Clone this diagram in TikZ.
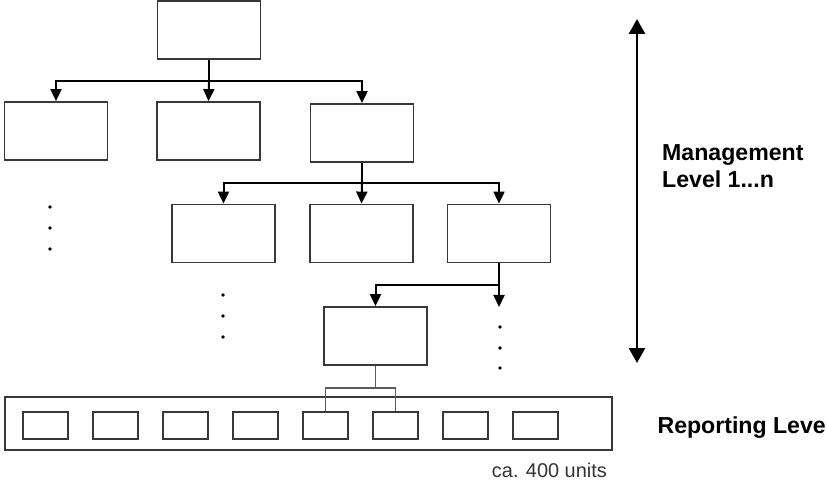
\documentclass[tikz,border=0pt]{standalone}
\usepackage{fontspec}
\setmainfont{Liberation Sans}
\usetikzlibrary{arrows.meta}
\begin{document}
\begin{tikzpicture}[x=1bp,y=-1bp,
  mbox/.style={draw=black!78, line width=1.8bp, inner sep=0pt, minimum width=103bp, minimum height=58bp},
  sbox/.style={draw=black!78, line width=2bp, inner sep=0pt, minimum width=45bp, minimum height=27bp},
  barbox/.style={draw=black!78, line width=1.8bp, inner sep=0pt, minimum width=607bp, minimum height=53bp},
  conn/.style={line width=2bp, draw=black},
  arr/.style={conn, -{Triangle[width=11bp,length=12bp]}},
  dotmark/.style={circle, fill=black, inner sep=0pt, minimum size=3.6bp},
  thinline/.style={draw=black!65, line width=1.3bp},
  bigarrow/.style={line width=2.8bp, {Triangle[width=16bp,length=15bp]}-{Triangle[width=16bp,length=15bp]}},
  lbl/.style={anchor=base west, inner sep=0pt, font=\bfseries\fontsize{23.2}{27}\selectfont},
  small/.style={anchor=base east, inner sep=0pt, text=black!80, font=\fontsize{20}{23}\selectfont}]
\useasboundingbox (0,0) rectangle (827,480);

% management boxes
\node[mbox] (T) at (209,30) {};
\node[mbox] (A) at (56,131) {};
\node[mbox] (B) at (208.5,131) {};
\node[mbox] (C) at (362,133) {};
\node[mbox] (D) at (223.5,233.5) {};
\node[mbox] (E) at (361.5,233.5) {};
\node[mbox] (F) at (499,233.5) {};
\node[mbox] (G) at (375.5,336) {};

% reporting level
\node[barbox] (bar) at (308.5,423.5) {};
\foreach \i in {1,...,8}{
  \node[sbox] (R\i) at ({45.5+70*(\i-1)},425.5) {};
}

% junctions
\coordinate (j1) at (T.south |- 0,81);
\coordinate (j2) at (C.south |- 0,183);
\coordinate (j3) at (F.south |- 0,285);
\coordinate (j4) at (G.south |- 0,388);
\coordinate (fend) at (F.south |- 0,307);

% connectors level 1
\draw[conn] (T.south) -- (j1);
\draw[arr] (j1) -| (A.north);
\draw[arr] (j1) -- (B.north);
\draw[arr] (j1) -| (C.north);

% level 2
\draw[conn] (C.south) -- (j2);
\draw[arr] (j2) -| (D.north);
\draw[arr] (j2) -- (E.north);
\draw[arr] (j2) -| (F.north);

% level 3
\draw[conn] (F.south) -- (j3);
\draw[arr] (j3) -| (G.north);
\draw[arr] (j3) -- (fend);

% bracket to reporting units
\draw[thinline] (G.south) -- (j4);
\draw[thinline] (j4) -| (R5.north);
\draw[thinline] (j4) -| (R6.north);

% dots
\foreach \y in {207,228,249} \node[dotmark] at (50,\y) {};
\foreach \y in {295,316,337} \node[dotmark] at (223,\y) {};
\foreach \y in {327,348,368} \node[dotmark] at (500,\y) {};

% double arrow
\coordinate (up) at (637,19);
\coordinate (down) at (637,363);
\draw[bigarrow] (up) -- (down);

% labels
\node[lbl] (m1) at (662,161) {Management};
\node[lbl] (m2) at (662,188) {Level 1...n};
\node[lbl, anchor=base east] (rep) at (826,433) {Reporting Leve};
\node[small] (units) at (607,477) {ca. 400 units};
\end{tikzpicture}
\end{document}
